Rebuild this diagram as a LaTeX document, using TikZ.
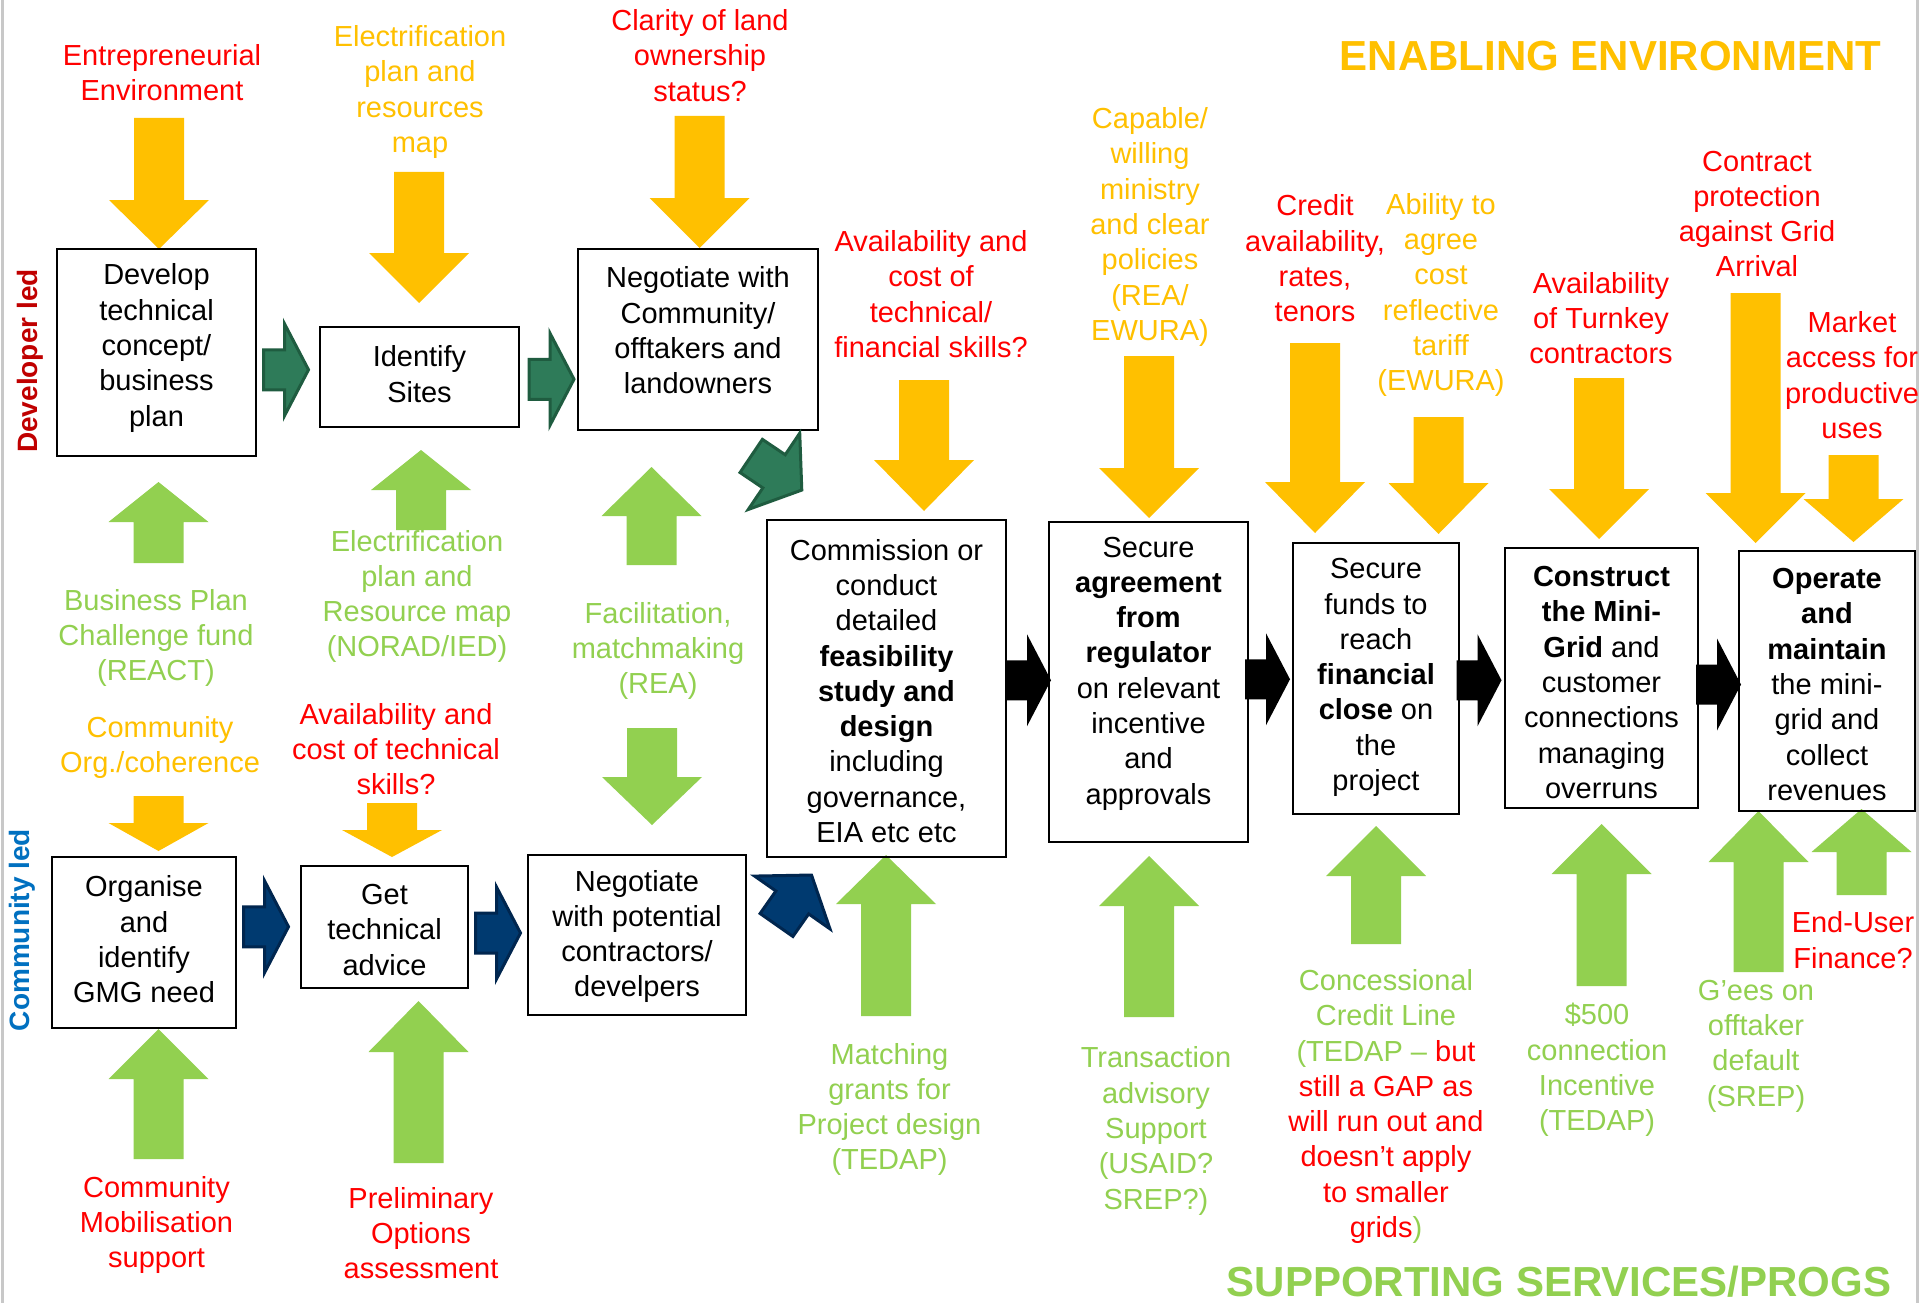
\documentclass[tikz,border=0pt]{standalone}
\usepackage{fontspec}
\setmainfont{Liberation Sans}
\usetikzlibrary{calc}
\definecolor{yel}{HTML}{FFC000}
\definecolor{grn}{HTML}{92D050}
\definecolor{rd}{HTML}{FF0000}
\definecolor{dred}{HTML}{C00000}
\definecolor{blu}{HTML}{0070C0}
\definecolor{dgfill}{HTML}{2E7B59}
\definecolor{dgline}{HTML}{1F5C40}
\definecolor{nvfill}{HTML}{003A70}
\definecolor{nvline}{HTML}{00264F}
\definecolor{edge}{HTML}{C8C8C8}
\newcommand\fsz{\fontsize{29}{35.3}\selectfont}
\newcommand\varr[5]{\fill[#1] ({#2-25},#3) -- ({#2-25},#4) -- ({#2-50},#4) -- (#2,#5) -- ({#2+50},#4) -- ({#2+25},#4) -- ({#2+25},#3) -- cycle;}
\tikzset{
  pics/hfat/.style={code={\path[pic actions] (-22.5,-20) -- (-1.5,-20) -- (-1.5,-46) -- (22.5,0) -- (-1.5,46) -- (-1.5,20) -- (-22.5,20) -- cycle;}},
  pics/dfat/.style={code={\path[pic actions] (-30.5,-20) -- (-3,-20) -- (-3,-46) -- (30.5,0) -- (-3,46) -- (-3,20) -- (-30.5,20) -- cycle;}},
}
\begin{document}
\begin{tikzpicture}[x=1pt,y=-1pt,
  box/.style={draw, line width=2.5pt, inner sep=0pt, outer sep=0pt},
  txt/.style={font=\fsz, align=center, inner sep=0pt, text=black},
  lab/.style={font=\fsz, align=center, inner sep=0pt},
  dgarr/.style={fill=dgfill, draw=dgline, line width=3pt},
  nvarr/.style={fill=nvfill, draw=nvline, line width=3pt},
  blkarr/.style={fill=black},
  ttl/.style={font=\bfseries\fontsize{42}{50}\selectfont, inner sep=0pt},
  side/.style={font=\bfseries\fontsize{28}{34}\selectfont, inner sep=0pt, rotate=90}]
\useasboundingbox (0,0) rectangle (1920,1303);
\fill[white] (0,0) rectangle (1920,1303);
\draw[edge, line width=3pt] (2,0) -- (2,1303);
\draw[edge, line width=3pt] (1917,0) -- (1917,1303);

% enabling (yellow) arrows
\varr{yel}{159}{118}{200}{249}
\varr{yel}{419}{172}{253}{303}
\varr{yel}{699.5}{116}{198}{248}
\varr{yel}{924}{380}{460}{511}
\varr{yel}{1149}{356}{468}{518}
\varr{yel}{1315}{343}{482}{533}
\varr{yel}{1438.5}{417}{483}{534}
\varr{yel}{1599}{378}{489}{539}
\varr{yel}{1755.5}{293}{493}{543}
\varr{yel}{1853.5}{455}{499}{542}
\varr{yel}{158.5}{796}{823}{851}
\varr{yel}{392}{803}{830}{857}
% supporting (green) arrows
\varr{grn}{158.5}{563}{522}{482}
\varr{grn}{421}{530}{490}{450}
\varr{grn}{651.5}{565}{516}{467}
\varr{grn}{652}{728}{777}{825}
\varr{grn}{886}{1016}{904}{855}
\varr{grn}{1149}{1017}{906}{856}
\varr{grn}{1376}{944}{876}{826}
\varr{grn}{1601.5}{986}{874}{824}
\varr{grn}{1758.5}{972}{862}{811}
\varr{grn}{1861.5}{895}{852}{809}
\varr{grn}{158.5}{1159}{1079}{1029}
\varr{grn}{418.5}{1163}{1052}{1001}

% boxes
\node[box, minimum width=199, minimum height=207] (b1) at (156.5,352.5) {};
\node[box, minimum width=199, minimum height=100] (b2) at (419.5,377) {};
\node[box, minimum width=240, minimum height=181] (b3) at (698,339.5) {};
\node[box, minimum width=239, minimum height=337] (b4) at (886.5,688.5) {};
\node[box, minimum width=199, minimum height=320] (b5) at (1148.5,682) {};
\node[box, minimum width=166, minimum height=271] (b6) at (1376,678.5) {};
\node[box, minimum width=193, minimum height=260] (b7) at (1601.5,678) {};
\node[box, minimum width=176, minimum height=260] (b8) at (1827,681) {};
\node[box, minimum width=184, minimum height=171] (b9) at (144,942.5) {};
\node[box, minimum width=167, minimum height=122] (b10) at (384.5,927) {};
\node[box, minimum width=218, minimum height=160] (b11) at (637,935) {};

% box texts
\node[txt] (b1t) at (156.5,348) {Develop\\technical\\concept/\\business\\plan};
\node[txt] (b2t) at (419.5,374) {Identify\\Sites};
\node[txt] (b3t) at (698,330.5) {Negotiate with\\Community/\\offtakers and\\landowners};
\node[txt] (b4t) at (886.5,691) {Commission or\\conduct\\detailed\\\textbf{feasibility}\\\textbf{study and}\\\textbf{design}\\including\\governance,\\EIA etc etc};
\node[txt] (b5t) at (1148.5,673.5) {Secure\\\textbf{agreement}\\\textbf{from}\\\textbf{regulator}\\on relevant\\incentive\\and\\approvals};
\node[txt] (b6t) at (1376,677.5) {Secure\\funds to\\reach\\\textbf{financial}\\\textbf{close} on\\the\\project};
\node[txt] (b7t) at (1601.5,682.5) {\textbf{Construct}\\\textbf{the Mini-}\\\textbf{Grid} and\\customer\\connections\\managing\\overruns};
\node[txt] (b8t) at (1827,684.5) {\textbf{Operate}\\\textbf{and}\\\textbf{maintain}\\the mini-\\grid and\\collect\\revenues};
\node[txt] (b9t) at (144,939.5) {Organise\\and\\identify\\GMG need};
\node[txt] (b10t) at (384.5,930) {Get\\technical\\advice};
\node[txt] (b11t) at (637,936.5) {Negotiate\\with potential\\contractors/\\develpers};

% process arrows
\pic[dgarr] at ($(b1.east)!0.5!(b2.west)+(-2,5)$) {hfat};
\pic[dgarr] at ($(b2.east)!0.5!(b3.west)+(3,21)$) {hfat};
\pic[dgarr, rotate=-34] at ($(b3.south east)!0.5!(b4.north west)+(-16,-2)$) {dfat};
\pic[blkarr] at ($(b4.east)!0.5!(b5.west)+(1,-5)$) {hfat};
\pic[blkarr] at ($(b5.east)!0.5!(b6.west)+(-3,-1)$) {hfat};
\pic[blkarr] at ($(b6.east)!0.5!(b7.west)+(-3,2)$) {hfat};
\pic[blkarr] at ($(b7.east)!0.5!(b8.west)+(0,5)$) {hfat};
\pic[nvarr] at ($(b9.east)!0.5!(b10.west)+(-2.5,-8)$) {hfat};
\pic[nvarr] at ($(b10.east)!0.5!(b11.west)+(0,2)$) {hfat};
\pic[nvarr, rotate=55] at ($(b4.south west)+(27,43)$) {dfat};

% side labels and titles
\node[side, text=dred] (devled) at (30.5,361) {Developer led};
\node[side, text=blu] (comled) at (22,930) {Community led};
\node[ttl, text=yel] (enab) at (1610.5,56) {ENABLING ENVIRONMENT};
\node[ttl, text=grn] (supp) at (1559,1282) {SUPPORTING SERVICES/PROGS};

% enabling labels
\node[lab, text=rd] (t1) at (162,72.5) {Entrepreneurial\\Environment};
\node[lab, text=yel] (t2) at (420,92) {Electrification\\plan and\\resources\\map};
\node[lab, text=rd] (t3) at (700,55.5) {Clarity of land\\ownership\\status?};
\node[lab, text=rd] (t4) at (931,294) {Availability and\\cost of\\technical/\\financial skills?};
\node[lab, text=yel] (t5) at (1150,227) {Capable/\\willing\\ministry\\and clear\\policies\\(REA/\\EWURA)};
\node[lab, text=rd] (t6) at (1315,258.5) {Credit\\availability,\\rates,\\tenors};
\node[lab, text=yel] (t7) at (1441,295) {Ability to\\agree\\cost\\reflective\\tariff\\(EWURA)};
\node[lab, text=rd] (t8) at (1601,318) {Availability\\of Turnkey\\contractors};
\node[lab, text=rd] (t9) at (1757,214) {Contract\\protection\\against Grid\\Arrival};
\node[lab, text=rd] (t10) at (1852,375) {Market\\access for\\productive\\uses};
\node[lab, text=yel] (t18) at (160,747.5) {Community\\Org./coherence};
\node[lab, text=rd] (t19) at (396,749) {Availability and\\cost of technical\\skills?};

% supporting labels
\node[lab, text=grn] (t15) at (156,638) {Business Plan\\Challenge fund\\(REACT)};
\node[lab, text=grn] (t16) at (417,596.5) {Electrification\\plan and\\Resource map\\(NORAD/IED)};
\node[lab, text=grn] (t17) at (658,651) {Facilitation,\\matchmaking\\(REA)};
\node[lab, text=rd] (t20) at (156.5,1225) {Community\\Mobilisation\\support};
\node[lab, text=rd] (t21) at (421,1233) {Preliminary\\Options\\assessment};
\node[lab, text=grn] (t22) at (889.5,1109.5) {Matching\\grants for\\Project design\\(TEDAP)};
\node[lab, text=grn] (t23) at (1156,1131) {Transaction\\advisory\\Support\\(USAID?\\SREP?)};
\node[lab, text=grn] (t24) at (1386,1106.5) {Concessional\\Credit Line\\(TEDAP – \textcolor{rd}{but}\\\textcolor{rd}{still a GAP as}\\\textcolor{rd}{will run out and}\\\textcolor{rd}{doesn’t apply}\\\textcolor{rd}{to smaller}\\\textcolor{rd}{grids})};
\node[lab, text=grn] (t25) at (1597,1070) {\$500\\connection\\Incentive\\(TEDAP)};
\node[lab, text=grn] (t26) at (1756,1046) {G’ees on\\offtaker\\default\\(SREP)};
\node[lab, text=rd] (t27) at (1853,940) {End-User\\Finance?};
\end{tikzpicture}
\end{document}
